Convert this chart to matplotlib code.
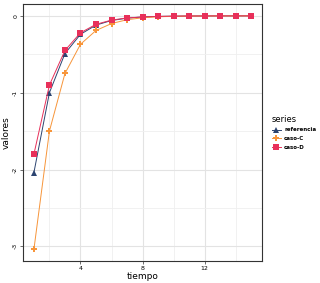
import matplotlib
matplotlib.use("Agg")
import matplotlib.pyplot as plt
from matplotlib.ticker import MultipleLocator

plt.rcParams["axes.unicode_minus"] = False

tiempo = list(range(1, 16))
referencia = [-2.04, -1.0, -0.49, -0.24, -0.12, -0.06, -0.03, -0.014, -0.007, -0.004, -0.002, -0.001, -0.0005, -0.0002, -0.0001]
caso_c = [-3.04, -1.5, -0.75, -0.37, -0.19, -0.1, -0.05, -0.025, -0.012, -0.006, -0.003, -0.0015, -0.0008, -0.0004, -0.0002]
caso_d = [-1.8, -0.9, -0.45, -0.22, -0.11, -0.055, -0.027, -0.014, -0.007, -0.0035, -0.0017, -0.0009, -0.0004, -0.0002, -0.0001]
y_ticks = [-3, -2, -1, 0]
y_labels = ["-3", "-2", "-1", "0"]

series = [
    ("referencia", referencia, "#2c4470", "^", 4.2),
    ("caso-C", caso_c, "#f7953a", "P", 3.8),
    ("caso-D", caso_d, "#e8305a", "s", 3.8),
]

fig = plt.figure(figsize=(3.2, 2.83), dpi=100)
ax = fig.add_axes([0.072, 0.078, 0.747, 0.908])

for name, vals, col, mk, ms in series:
    ax.plot(tiempo, vals, color=col, lw=0.7, marker=mk, markersize=ms,
            markeredgewidth=0, label=name)

ax.set_xlim(0.3, 15.7)
ax.set_ylim(-3.19, 0.155)
ax.xaxis.set_major_locator(MultipleLocator(4))
ax.xaxis.set_minor_locator(MultipleLocator(2))
ax.set_yticks(y_ticks)
ax.set_yticklabels(y_labels, rotation=90, va="center")
ax.yaxis.set_minor_locator(MultipleLocator(0.5))
ax.grid(which="major", color="#e3e3e3", lw=0.8)
ax.grid(which="minor", color="#efefef", lw=0.6)
ax.set_axisbelow(True)
for s in ax.spines.values():
    s.set_color("#333333")
    s.set_linewidth(0.8)
ax.tick_params(which="both", length=2, width=0.5, color="#333333", labelsize=4.5, pad=1.5)
ax.tick_params(which="minor", length=0)
ax.set_xlabel("tiempo", fontsize=6.5, labelpad=1)
ax.set_ylabel("valores", fontsize=6.5, labelpad=2)

leg = ax.legend(loc="center left", bbox_to_anchor=(1.02, 0.5), frameon=False,
                title="series", fontsize=4, title_fontsize=6,
                handlelength=1.6, handletextpad=0.6, labelspacing=0.7)
leg._legend_box.align = "left"
for t in leg.get_texts():
    t.set_fontweight("bold")

fig.savefig("out.png", dpi=100)
